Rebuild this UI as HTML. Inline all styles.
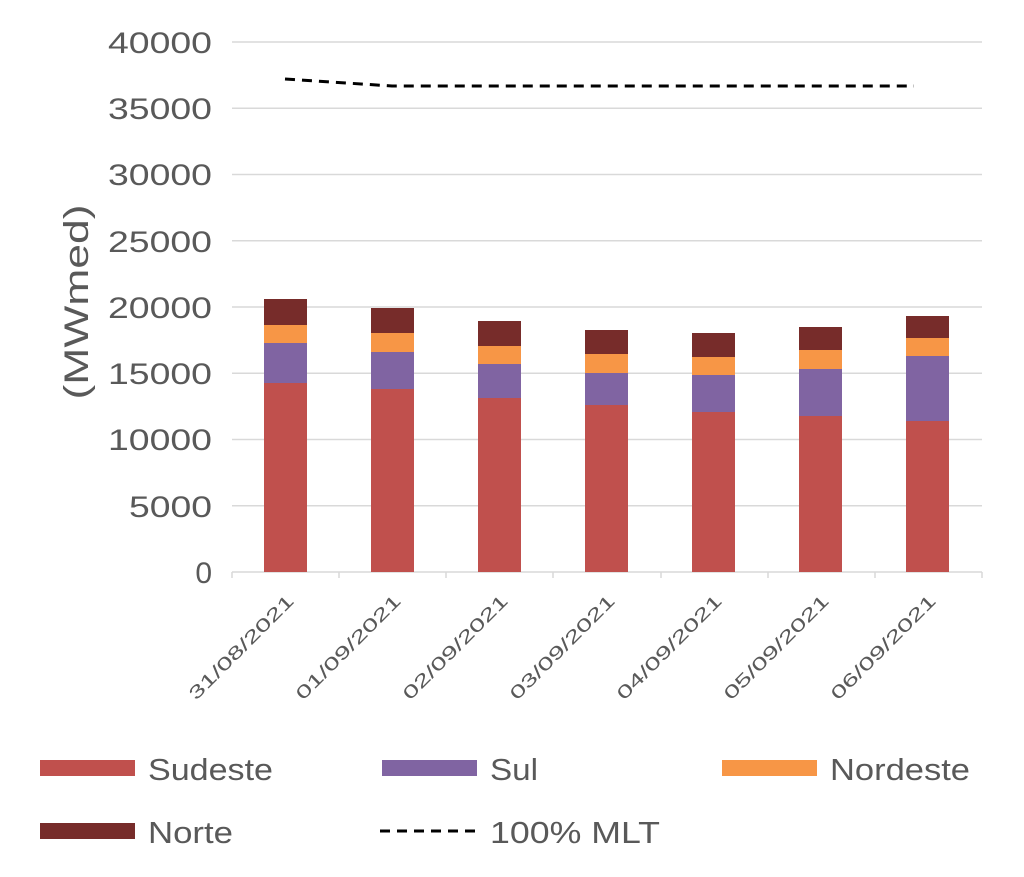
<!DOCTYPE html>
<html><head><meta charset="utf-8"><style>html,body{margin:0;padding:0;background:#fff}</style></head><body>
<svg width="1024" height="872" xmlns="http://www.w3.org/2000/svg" font-family="Liberation Sans, sans-serif" fill="#595959">
<g stroke="#d9d9d9" stroke-width="1.5">
<line x1="232" y1="42" x2="982" y2="42"/><line x1="232" y1="108.25" x2="982" y2="108.25"/>
<line x1="232" y1="174.5" x2="982" y2="174.5"/><line x1="232" y1="240.75" x2="982" y2="240.75"/>
<line x1="232" y1="307" x2="982" y2="307"/><line x1="232" y1="373.25" x2="982" y2="373.25"/>
<line x1="232" y1="439.5" x2="982" y2="439.5"/><line x1="232" y1="505.75" x2="982" y2="505.75"/>
<line x1="232" y1="572" x2="982" y2="572"/>
<line x1="232" y1="572" x2="232" y2="578"/><line x1="339" y1="572" x2="339" y2="578"/>
<line x1="446" y1="572" x2="446" y2="578"/><line x1="553" y1="572" x2="553" y2="578"/>
<line x1="661" y1="572" x2="661" y2="578"/><line x1="768" y1="572" x2="768" y2="578"/>
<line x1="875" y1="572" x2="875" y2="578"/><line x1="982" y1="572" x2="982" y2="578"/>
</g>
<g font-size="30" text-anchor="end" lengthAdjust="spacingAndGlyphs">
<text x="212" y="53" textLength="104" lengthAdjust="spacingAndGlyphs">40000</text><text x="212" y="119" textLength="104" lengthAdjust="spacingAndGlyphs">35000</text><text x="212" y="185" textLength="104" lengthAdjust="spacingAndGlyphs">30000</text>
<text x="212" y="252" textLength="104" lengthAdjust="spacingAndGlyphs">25000</text><text x="212" y="318" textLength="104" lengthAdjust="spacingAndGlyphs">20000</text><text x="212" y="384" textLength="104" lengthAdjust="spacingAndGlyphs">15000</text>
<text x="212" y="450" textLength="104" lengthAdjust="spacingAndGlyphs">10000</text><text x="212" y="517" textLength="83" lengthAdjust="spacingAndGlyphs">5000</text><text x="212" y="583">0</text>
</g>
<text transform="translate(88,302) rotate(-90)" font-size="34" text-anchor="middle" textLength="195" lengthAdjust="spacingAndGlyphs">(MWmed)</text>
<g>
<rect x="264" y="383" width="43" height="189" fill="#C0504D"/><rect x="264" y="343" width="43" height="40" fill="#8064A2"/><rect x="264" y="325" width="43" height="18" fill="#F79646"/><rect x="264" y="299" width="43" height="26" fill="#772C2A"/>
<rect x="371" y="389" width="43" height="183" fill="#C0504D"/><rect x="371" y="352" width="43" height="37" fill="#8064A2"/><rect x="371" y="333" width="43" height="19" fill="#F79646"/><rect x="371" y="308" width="43" height="25" fill="#772C2A"/>
<rect x="478" y="398" width="43" height="174" fill="#C0504D"/><rect x="478" y="364" width="43" height="34" fill="#8064A2"/><rect x="478" y="346" width="43" height="18" fill="#F79646"/><rect x="478" y="321" width="43" height="25" fill="#772C2A"/>
<rect x="585" y="405" width="43" height="167" fill="#C0504D"/><rect x="585" y="373" width="43" height="32" fill="#8064A2"/><rect x="585" y="354" width="43" height="19" fill="#F79646"/><rect x="585" y="330" width="43" height="24" fill="#772C2A"/>
<rect x="692" y="412" width="43" height="160" fill="#C0504D"/><rect x="692" y="375" width="43" height="37" fill="#8064A2"/><rect x="692" y="357" width="43" height="18" fill="#F79646"/><rect x="692" y="333" width="43" height="24" fill="#772C2A"/>
<rect x="799" y="416" width="43" height="156" fill="#C0504D"/><rect x="799" y="369" width="43" height="47" fill="#8064A2"/><rect x="799" y="350" width="43" height="19" fill="#F79646"/><rect x="799" y="327" width="43" height="23" fill="#772C2A"/>
<rect x="906" y="421" width="43" height="151" fill="#C0504D"/><rect x="906" y="356" width="43" height="65" fill="#8064A2"/><rect x="906" y="338" width="43" height="18" fill="#F79646"/><rect x="906" y="316" width="43" height="22" fill="#772C2A"/>
</g>
<polyline points="285,79 392,86 500,86 607,86 714,86 821,86 914,86" fill="none" stroke="#000" stroke-width="3" stroke-dasharray="10,7"/>
<g font-size="18" text-anchor="end">
<text transform="translate(295,602) rotate(-45)" textLength="140" lengthAdjust="spacingAndGlyphs">31/08/2021</text>
<text transform="translate(402,602) rotate(-45)" textLength="140" lengthAdjust="spacingAndGlyphs">01/09/2021</text>
<text transform="translate(509,602) rotate(-45)" textLength="140" lengthAdjust="spacingAndGlyphs">02/09/2021</text>
<text transform="translate(616,602) rotate(-45)" textLength="140" lengthAdjust="spacingAndGlyphs">03/09/2021</text>
<text transform="translate(723,602) rotate(-45)" textLength="140" lengthAdjust="spacingAndGlyphs">04/09/2021</text>
<text transform="translate(830,602) rotate(-45)" textLength="140" lengthAdjust="spacingAndGlyphs">05/09/2021</text>
<text transform="translate(937,602) rotate(-45)" textLength="140" lengthAdjust="spacingAndGlyphs">06/09/2021</text>
</g>
<g font-size="31">
<rect x="40" y="760" width="95" height="16" fill="#C0504D"/><text x="148" y="780" textLength="125" lengthAdjust="spacingAndGlyphs">Sudeste</text>
<rect x="382" y="760" width="95" height="16" fill="#8064A2"/><text x="490" y="780" textLength="48" lengthAdjust="spacingAndGlyphs">Sul</text>
<rect x="722" y="760" width="95" height="16" fill="#F79646"/><text x="830" y="780" textLength="140" lengthAdjust="spacingAndGlyphs">Nordeste</text>
<rect x="40" y="823" width="95" height="16" fill="#772C2A"/><text x="148" y="843" textLength="85" lengthAdjust="spacingAndGlyphs">Norte</text>
<line x1="380" y1="831" x2="480" y2="831" stroke="#000" stroke-width="3" stroke-dasharray="10,7"/><text x="490" y="843" textLength="170" lengthAdjust="spacingAndGlyphs">100% MLT</text>
</g>
</svg>
</body></html>
